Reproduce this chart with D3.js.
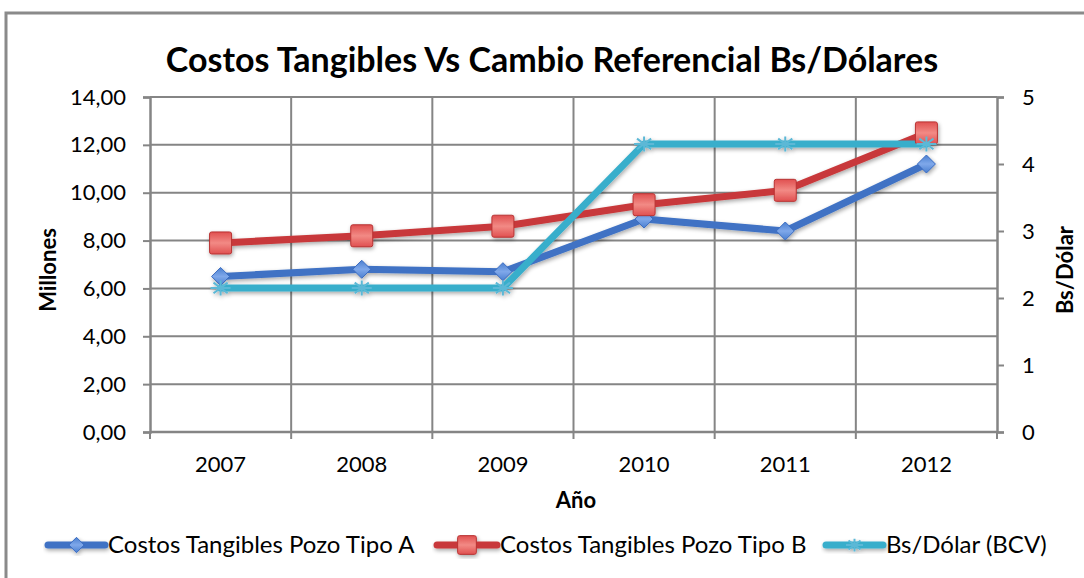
<!DOCTYPE html>
<html>
<head>
<meta charset="utf-8">
<script src="https://cdn.jsdelivr.net/npm/d3@7/dist/d3.min.js"></script>
<style>
  html, body { margin: 0; padding: 0; background: #ffffff; }
  svg { display: block; }
  text { font-family: Lato, "Open Sans", sans-serif; fill: #000; }
</style>
</head>
<body>
<svg id="chart" width="1084" height="578"></svg>
<script>
// Years on the category axis
const years = ["2007", "2008", "2009", "2010", "2011", "2012"];
// Tangible costs per well type (millions)
const costoTipoA = [6.5, 6.8, 6.7, 8.9, 8.4, 11.2];
const costoTipoB = [7.9, 8.2, 8.6, 9.5, 10.1, 12.5];
// Reference exchange rate Bs/Dólar (BCV)
const cambioBCV = [2.15, 2.15, 2.15, 4.30, 4.30, 4.30];
// Tick values for both value axes
const leftTicks = [0, 2, 4, 6, 8, 10, 12, 14];
const rightTicks = [0, 1, 2, 3, 4, 5];
const seriesNames = ["Costos Tangibles Pozo Tipo A", "Costos Tangibles Pozo Tipo B", "Bs/Dólar (BCV)"];

const svg = d3.select("#chart");
const W = 1084, H = 578;
const plot = { left: 150, right: 997, top: 97, bottom: 432 };

const colA = "#3F72C4", colB = "#C8393A", colC = "#38AECB";

// Defs: drop shadow for series lines, gradients for markers
const defs = svg.append("defs");
const sh = defs.append("filter").attr("id", "shadow").attr("x", "-10%").attr("y", "-10%").attr("width", "120%").attr("height", "130%");
sh.append("feGaussianBlur").attr("in", "SourceAlpha").attr("stdDeviation", 2);
sh.append("feOffset").attr("dx", 1).attr("dy", 2).attr("result", "ob");
sh.append("feComponentTransfer").append("feFuncA").attr("type", "linear").attr("slope", 0.35);
const merge = sh.append("feMerge");
merge.append("feMergeNode");
merge.append("feMergeNode").attr("in", "SourceGraphic");

function grad(id, c1, c2) {
  const g = defs.append("linearGradient").attr("id", id).attr("x1", 0).attr("y1", 0).attr("x2", 0).attr("y2", 1);
  g.append("stop").attr("offset", "0%").attr("stop-color", c1);
  g.append("stop").attr("offset", "50%").attr("stop-color", c2);
  g.append("stop").attr("offset", "100%").attr("stop-color", c1);
}
grad("gradB", "#E05050", "#F28A85");
grad("gradA", "#4A7FD0", "#7FA8EA");

// Outer chart frame
svg.append("rect").attr("x", 6).attr("y", 13).attr("width", W + 10).attr("height", H + 10)
  .attr("fill", "#fff").attr("stroke", "#8a8a8a").attr("stroke-width", 3);

// Scales
const x = d3.scaleBand().domain(years).range([plot.left, plot.right]).padding(0);
const yL = d3.scaleLinear().domain([0, 14]).range([plot.bottom, plot.top]);
const yR = d3.scaleLinear().domain([0, 5]).range([plot.bottom, plot.top]);

const gridColor = "#858585";

// Horizontal gridlines
svg.append("g").selectAll("line").data(leftTicks.slice(1)).join("line")
  .attr("x1", plot.left).attr("x2", plot.right)
  .attr("y1", d => yL(d)).attr("y2", d => yL(d))
  .attr("stroke", gridColor).attr("stroke-width", 2);

// Vertical gridlines at category boundaries
svg.append("g").selectAll("line").data(years.slice(1)).join("line")
  .attr("x1", d => x(d)).attr("x2", d => x(d))
  .attr("y1", plot.top).attr("y2", plot.bottom)
  .attr("stroke", gridColor).attr("stroke-width", 2);

// Left axis
const axL = svg.append("g").attr("transform", `translate(${plot.left},0)`)
  .call(d3.axisLeft(yL).tickValues(leftTicks).tickSize(7).tickPadding(17)
    .tickFormat(d => d3.format(".2f")(d).replace(".", ",")));
// Right axis
const axR = svg.append("g").attr("transform", `translate(${plot.right},0)`)
  .call(d3.axisRight(yR).tickValues(rightTicks).tickSize(7).tickPadding(18).tickFormat(d3.format("d")));
// Bottom axis with ticks at category boundaries
const axB = svg.append("g").attr("transform", `translate(0,${plot.bottom})`)
  .call(d3.axisBottom(x).tickSize(0).tickPadding(24));
const boundaries = years.map(d => x(d)).concat([plot.right]);
axB.selectAll(".bound").data(boundaries).join("line").attr("class", "bound")
  .attr("x1", d => d).attr("x2", d => d).attr("y1", 0).attr("y2", 7)
  .attr("stroke", gridColor).attr("stroke-width", 2);

[axL, axR, axB].forEach(a => {
  a.select(".domain").attr("stroke", gridColor).attr("stroke-width", 2.5);
  a.selectAll(".tick line").attr("stroke", gridColor).attr("stroke-width", 2);
  a.selectAll(".tick text").attr("font-size", 22).attr("font-family", "Lato, sans-serif").attr("fill", "#111");
});
axB.select(".domain").attr("d", `M${plot.left},0H${plot.right}`);

// Line generators
const lineL = d3.line().x((d, i) => x(years[i]) + x.bandwidth() / 2).y(d => yL(d));
const lineR = d3.line().x((d, i) => x(years[i]) + x.bandwidth() / 2).y(d => yR(d));

const series = [
  { vals: costoTipoA, gen: lineL, sc: yL, color: colA, marker: "diamond" },
  { vals: costoTipoB, gen: lineL, sc: yL, color: colB, marker: "square" },
  { vals: cambioBCV, gen: lineR, sc: yR, color: colC, marker: "star" }
];

function drawMarker(g, type, cx, cy, scale) {
  const s = scale || 1;
  if (type === "diamond") {
    const r = 9 * s;
    g.append("path").attr("d", `M${cx},${cy - r}L${cx + r},${cy}L${cx},${cy + r}L${cx - r},${cy}Z`)
      .attr("fill", "url(#gradA)").attr("stroke", "#3A6BC0").attr("stroke-width", 1);
  } else if (type === "square") {
    const r = 11 * s;
    g.append("rect").attr("x", cx - r).attr("y", cy - r).attr("width", 2 * r).attr("height", 2 * r)
      .attr("rx", 2).attr("fill", "url(#gradB)").attr("stroke", "#B83232").attr("stroke-width", 1);
  } else {
    const r = 10 * s;
    const p = [];
    for (let k = 0; k < 4; k++) {
      const a = k * Math.PI / 4;
      p.push(`M${cx - r * Math.cos(a)},${cy - r * Math.sin(a) * 0.75}L${cx + r * Math.cos(a)},${cy + r * Math.sin(a) * 0.75}`);
    }
    g.append("path").attr("d", p.join("")).attr("stroke", "#5BB8D6").attr("stroke-width", 2).attr("fill", "none");
  }
}

const gS = svg.append("g").attr("filter", "url(#shadow)");
series.forEach(s => {
  gS.append("path").datum(s.vals).attr("d", s.gen).attr("fill", "none")
    .attr("stroke", s.color).attr("stroke-width", 7).attr("stroke-linejoin", "round").attr("stroke-linecap", "round");
});
series.forEach(s => {
  s.vals.forEach((v, i) => drawMarker(gS, s.marker, x(years[i]) + x.bandwidth() / 2, s.sc(v)));
});

// Title
svg.append("text").attr("x", 552).attr("y", 72).attr("text-anchor", "middle")
  .attr("font-size", 34).attr("font-weight", "bold").text("Costos Tangibles Vs Cambio Referencial Bs/Dólares");

// Axis titles
svg.append("text").attr("transform", "translate(56,270) rotate(-90)").attr("text-anchor", "middle")
  .attr("font-size", 22).attr("font-weight", "bold").text("Millones");
svg.append("text").attr("transform", "translate(1073,270) rotate(-90)").attr("text-anchor", "middle")
  .attr("font-size", 22).attr("font-weight", "bold").text("Bs/Dólar");
svg.append("text").attr("x", 576).attr("y", 508).attr("text-anchor", "middle")
  .attr("font-size", 22).attr("font-weight", "bold").text("Año");

// Legend
const legendX = [48, 437, 826];
const legendSample = [57, 60, 57];
const lg = svg.append("g");
series.forEach((s, i) => {
  const x0 = legendX[i], yy = 545, w = legendSample[i];
  const gi = lg.append("g").attr("filter", "url(#shadow)");
  gi.append("line").attr("x1", x0).attr("x2", x0 + w).attr("y1", yy).attr("y2", yy)
    .attr("stroke", s.color).attr("stroke-width", 7).attr("stroke-linecap", "round");
  drawMarker(gi, s.marker, x0 + w / 2, yy, 0.85);
  lg.append("text").attr("x", x0 + w + 3).attr("y", yy + 8).attr("font-size", 24).text(seriesNames[i]);
});
</script>
</body>
</html>
